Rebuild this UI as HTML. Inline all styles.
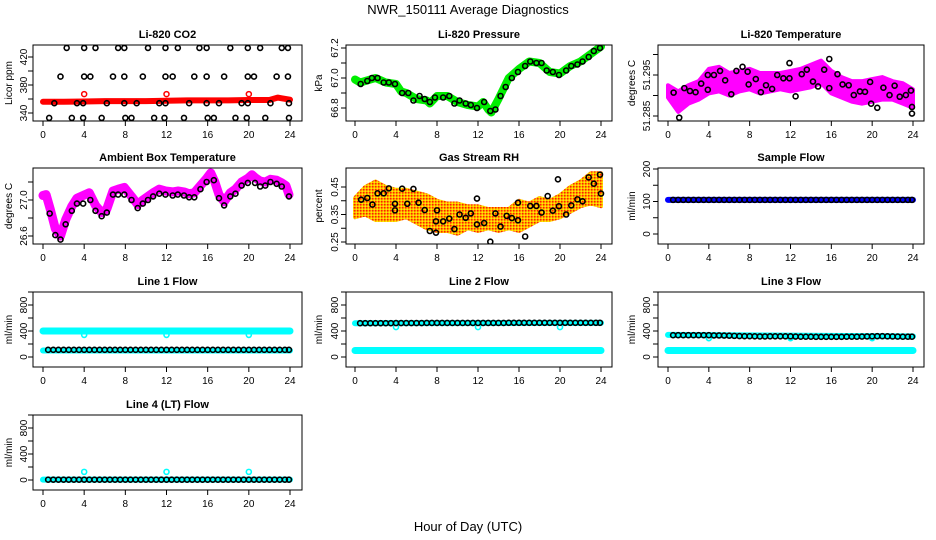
<!DOCTYPE html>
<html><head><meta charset="utf-8"><style>
body{margin:0;background:#fff;}
svg{display:block;font-family:"Liberation Sans",Arial,sans-serif;}
</style></head><body>
<svg id="c" width="936" height="540" viewBox="0 0 936 540" xmlns="http://www.w3.org/2000/svg">
<defs>
<pattern id="orangePat" width="3" height="3" patternUnits="userSpaceOnUse"><rect width="3" height="3" fill="#ffb000"/><rect width="1.5" height="1.5" fill="#ff2000"/><rect x="1.5" y="1.5" width="1.5" height="1.5" fill="#ffee00"/></pattern>
</defs>
<text x="468" y="14" font-size="13" text-anchor="middle">NWR_150111  Average Diagnostics</text>
<text x="468" y="531" font-size="13" text-anchor="middle">Hour of Day (UTC)</text>
</svg>
<script>
// ---- data ----
const xTicks=[0,4,8,12,16,20,24];
const co2TopT=[2.3,4.0,5.1,7.3,7.9,10.2,11.9,13.1,15.2,15.9,18.2,19.9,21.1,23.2,23.8];
const co2TopV=[433,433,433,433,433,433,433,433,433,433,433,433,433,433,433];
const co2MidT=[1.7,4.0,4.6,6.8,7.9,9.7,11.9,12.6,14.7,15.9,17.6,19.9,20.5,22.7,23.8];
const co2MidV=[392,392,392,392,392,392,392,392,392,392,392,392,392,392,392];
const co2LowT=[1.1,3.3,3.9,6.2,7.9,9.1,11.3,11.9,14.2,15.9,17.1,19.3,19.9,22.1,23.9];
const co2LowV=[354,354,354,354,354,354,354,354,354,354,354,354,354,354,354];
const co2BotT=[0.6,2.8,3.9,5.7,8.0,8.6,10.8,11.8,13.7,16.0,16.6,18.7,19.8,21.6,23.9];
const co2BotV=[333,333,333,333,333,333,333,333,333,333,333,333,333,333,333];
const co2RedT=[0,2,4,6,8,10,12,14,16,18,20,22,22.8,23.2,24];
const co2RedV=[356,356,356.5,357,357,357,357.5,358,358,358,358.5,358.5,362,361,359];
const co2RedOutT=[4,12,20];
const co2RedOutV=[367,367,367];

const presT=[0.55,1.2,1.65,2.2,2.8,3.3,3.9,4.6,5.2,5.7,6.3,6.8,7.3,7.8,8.6,9.2,9.7,10.2,10.8,11.3,11.9,12.6,13.2,13.7,14.2,14.7,15.3,15.9,16.6,17.1,17.7,18.2,18.7,19.3,19.9,20.6,21.1,21.7,22.2,22.8,23.3,23.9];
const presV=[66.96,66.98,67.0,67.0,66.97,66.97,66.96,66.9,66.9,66.85,66.88,66.86,66.84,66.87,66.87,66.88,66.83,66.85,66.83,66.82,66.8,66.84,66.78,66.79,66.88,66.94,67.0,67.04,67.08,67.11,67.1,67.1,67.05,67.04,67.02,67.05,67.08,67.09,67.11,67.14,67.18,67.2];
const presGreenT=[0,0.5,1,2,3,4,4.5,5,6,7,7.3,8,9,10,11,12,12.5,13,13.3,14,15,16,17,18,19,20,21,22,23,24];
const presGreenV=[66.99,66.97,66.98,67.0,66.97,66.96,66.91,66.9,66.86,66.85,66.83,66.88,66.88,66.84,66.82,66.81,66.84,66.79,66.77,66.86,67.0,67.06,67.11,67.1,67.04,67.03,67.08,67.11,67.16,67.21];

const ltT=[0.55,1.1,1.6,2.15,2.7,3.25,3.9,3.9,4.5,5.1,5.6,6.2,6.7,7.3,7.8,7.9,8.6,9.1,9.6,10.2,10.7,11.3,11.9,11.9,12.5,13.1,13.6,14.2,14.7,15.3,15.8,15.8,16.6,17.1,17.7,18.2,18.8,19.3,19.8,19.9,20.5,21.1,21.7,22.2,22.7,23.3,23.8,23.9,23.9];
const ltV=[51.2907,51.2846,51.2918,51.2911,51.2908,51.2929,51.2950,51.2914,51.2950,51.2960,51.2937,51.2903,51.2960,51.2970,51.2958,51.2927,51.2940,51.2908,51.2925,51.2916,51.2950,51.2942,51.2942,51.2979,51.2898,51.2952,51.2963,51.2934,51.2922,51.2963,51.2989,51.2918,51.2952,51.2927,51.2925,51.2901,51.2910,51.2909,51.2933,51.2880,51.2870,51.2919,51.2901,51.2924,51.2897,51.2901,51.2912,51.2872,51.2856];
const ltHours=[0,1,2,3,4,5,6,7,8,9,10,11,12,13,14,15,16,17,18,19,20,21,22,23,24];
const ltLo=[51.2895,51.2860,51.2880,51.2890,51.2905,51.2910,51.2900,51.2910,51.2915,51.2905,51.2910,51.2915,51.2910,51.2915,51.2920,51.2930,51.2905,51.2895,51.2885,51.2880,51.2885,51.2890,51.2890,51.2880,51.2870];
const ltHi=[51.2925,51.2910,51.2925,51.2935,51.2965,51.2970,51.2955,51.2960,51.2965,51.2955,51.2955,51.2955,51.2960,51.2965,51.2975,51.2985,51.2960,51.2945,51.2935,51.2935,51.2940,51.2945,51.2935,51.2930,51.2915];

const ambT=[0.65,1.2,1.7,2.2,2.8,3.3,3.9,4.6,5.1,5.7,6.2,6.8,7.3,7.9,8.6,9.2,9.7,10.2,10.7,11.3,11.9,12.6,13.1,13.7,14.2,14.7,15.3,15.9,16.6,17.1,17.6,18.2,18.7,19.3,19.9,20.6,21.1,21.6,22.1,22.7,23.2,23.9];
const ambV=[26.85,26.61,26.56,26.73,26.88,26.96,26.96,27.0,26.88,26.82,26.86,27.06,27.06,27.06,27.0,26.91,26.96,27.0,27.04,27.07,27.06,27.05,27.06,27.05,27.03,27.03,27.12,27.2,27.22,27.02,26.94,27.04,27.07,27.16,27.19,27.19,27.15,27.16,27.2,27.18,27.15,27.04];
const ambMagT=[0,0.3,0.7,1.2,1.7,2.2,2.8,3.3,3.9,4.5,5.1,5.7,6.2,6.8,7.3,7.9,8.6,9.2,9.7,10.2,10.7,11.3,11.9,12.6,13.1,13.7,14.2,14.7,15.3,15.9,16.3,16.7,17.1,17.6,18.2,18.7,19.3,19.9,20.3,20.6,21.1,21.6,22.1,22.7,23.2,23.6,23.9];
const ambMagV=[27.05,27.06,26.9,26.68,26.6,26.78,26.93,27.02,27.05,27.08,26.94,26.86,26.9,27.1,27.12,27.14,27.04,26.95,27.0,27.04,27.08,27.12,27.1,27.09,27.1,27.09,27.07,27.08,27.16,27.24,27.3,27.2,27.06,26.98,27.08,27.12,27.2,27.24,27.28,27.25,27.21,27.2,27.23,27.22,27.19,27.16,27.06];

const rhT=[0.6,1.2,1.7,2.2,2.8,3.3,3.9,3.9,4.6,5.1,5.7,6.2,6.8,7.3,7.9,8.0,7.9,8.6,9.2,9.7,10.2,10.8,11.3,11.9,11.9,12.6,13.2,13.7,14.2,14.8,15.3,15.9,15.9,16.6,17.1,17.7,18.2,18.8,19.3,19.8,19.9,20.6,21.1,21.7,22.2,22.8,23.3,23.9,24.0];
const rhV=[0.404,0.41,0.386,0.427,0.427,0.445,0.389,0.365,0.444,0.389,0.443,0.393,0.366,0.29,0.284,0.365,0.325,0.325,0.335,0.297,0.35,0.338,0.354,0.408,0.314,0.319,0.251,0.354,0.306,0.345,0.337,0.393,0.329,0.27,0.381,0.381,0.357,0.417,0.364,0.478,0.38,0.35,0.383,0.405,0.398,0.485,0.462,0.495,0.426];
const rhHours=[0,1,2,3,4,5,6,7,8,9,10,11,12,13,14,15,16,17,18,19,20,21,22,23,24];
const rhLo=[0.34,0.35,0.33,0.33,0.33,0.34,0.32,0.30,0.29,0.29,0.28,0.30,0.29,0.30,0.29,0.30,0.29,0.31,0.33,0.33,0.34,0.36,0.38,0.39,0.38];
const rhHi=[0.41,0.45,0.47,0.45,0.44,0.44,0.43,0.42,0.40,0.39,0.39,0.38,0.38,0.37,0.37,0.37,0.40,0.39,0.41,0.40,0.42,0.45,0.47,0.50,0.50];

const flowT=[0.5,1,1.5,2,2.5,3,3.5,4,4.5,5,5.5,6,6.5,7,7.5,8,8.5,9,9.5,10,10.5,11,11.5,12,12.5,13,13.5,14,14.5,15,15.5,16,16.5,17,17.5,18,18.5,19,19.5,20,20.5,21,21.5,22,22.5,23,23.5,23.9];
const sampleV=[105,105,105,105,105,105,105,105,105,105,105,105,105,105,105,105,105,105,105,105,105,105,105,105,105,105,105,105,105,105,105,105,105,105,105,105,105,105,105,105,105,105,105,105,105,105,105,105];
const line1BlackV=[110,110,110,110,110,110,110,110,110,110,110,110,110,110,110,110,110,110,110,110,110,110,110,110,110,110,110,110,110,110,110,110,110,110,110,110,110,110,110,110,110,110,110,110,110,110,110,110];
const line2BlackV=[520,520,520,520,520,520,520,522,522,522,522,522,522,524,524,524,524,524,524,524,524,524,524,524,524,524,524,524,524,526,526,526,526,526,526,526,526,526,526,526,526,526,526,526,526,526,526,526];
const line3BlackV=[335,335,335,335,335,335,335,335,332,332,330,328,325,322,320,320,318,316,316,318,318,318,318,318,315,312,312,312,310,310,310,310,310,310,312,312,312,314,316,318,320,320,318,316,314,312,312,312];
const line4BlackV=[5,5,5,5,5,5,5,5,5,5,5,5,5,5,5,5,5,5,5,5,5,5,5,5,5,5,5,5,5,5,5,5,5,5,5,5,5,5,5,5,5,5,5,5,5,5,5,5];
const cyanSegT=[0,24];
const line1CyanHi=[400,400];
const cyanLow=[100,100];
const line2CyanHi=[520,525];
const line3CyanHi=[340,318];
const line4Cyan=[5,5];
const spikeT=[4,12,20];
const line1Spike=[340,340,340];
const line2Spike=[460,460,460];
const line3Spike=[290,290,290];
const line4Spike=[125,125,125];

// ---- drawing ----
const svg=document.getElementById('c');
const NS='http://www.w3.org/2000/svg';
function mk(tag,attrs,parent){const e=document.createElementNS(NS,tag);for(const k in attrs)e.setAttribute(k,attrs[k]);(parent||svg).appendChild(e);return e;}
const cols=[{l:33,r:302,x0:43,x1:290,yl:8,tl:23},{l:346,r:612,x0:355,x1:601,yl:318,tl:334},{l:658,r:924,x0:668,x1:913,yl:631,tl:646}];
const rows=[{t:45,b:121},{t:168,b:244},{t:292,b:367},{t:415,b:490}];

function panel(ci,ri,title,unit,v0,p0,v1,p1,ticks,labels,name){
  const c=cols[ci],r=rows[ri];
  const g=mk('g',{});
  
  
  const X=t=>c.x0+(c.x1-c.x0)*t/24;
  const Y=v=>p0+(v-v0)*(p1-p0)/(v1-v0);
  const clipId='clip'+ci+ri;
  const cp=mk('clipPath',{id:clipId},g);mk('rect',{x:c.l,y:r.t,width:c.r-c.l,height:r.b-r.t},cp);
  const plot=mk('g',{'clip-path':'url(#'+clipId+')'},g);
  
  
  const frame=mk('rect',{x:c.l,y:r.t,width:c.r-c.l,height:r.b-r.t,fill:'none',stroke:'#000','stroke-width':1},g);
  
  
  const tt=mk('text',{x:(c.l+c.r)/2,y:r.t-7,'font-size':11,'font-weight':'bold','text-anchor':'middle'},g);tt.textContent=title;
  
  
  const yl=mk('text',{x:0,y:0,'font-size':10,'text-anchor':'middle',transform:`translate(${c.yl+4},${(r.t+r.b)/2}) rotate(-90)`},g);yl.textContent=unit;
  
  
  const xa=mk('g',{stroke:'#000'},g);
  
  
  mk('line',{x1:X(0),x2:X(24),y1:r.b,y2:r.b},xa);
  xTicks.forEach(t=>{mk('line',{x1:X(t),x2:X(t),y1:r.b,y2:r.b+5},xa);
    const tx=mk('text',{x:X(t),y:r.b+17,'font-size':10,'text-anchor':'middle',stroke:'none'},xa);tx.textContent=t;});
  const ya=mk('g',{stroke:'#000'},g);
  
  
  mk('line',{x1:c.l,x2:c.l,y1:Y(ticks[0]),y2:Y(ticks[ticks.length-1])},ya);
  ticks.forEach(v=>{mk('line',{x1:c.l-5,x2:c.l,y1:Y(v),y2:Y(v)},ya);});
  labels.forEach(v=>{const t=mk('text',{x:0,y:0,'font-size':10,'text-anchor':'middle',stroke:'none',transform:`translate(${c.tl+4},${Y(v)}) rotate(-90)`},ya);t.textContent=v;});
  return {X,Y,plot};
}
function pts(P,T,V,color,r,sw,name){
  T.forEach((t,i)=>{const e=mk('circle',{cx:P.X(t),cy:P.Y(V[i]),r:r,fill:'none',stroke:color,'stroke-width':sw},P.plot);
    
    });
}
function line(P,T,V,color,w,name){
  const e=mk('polyline',{points:T.map((t,i)=>P.X(t)+','+P.Y(V[i])).join(' '),fill:'none',stroke:color,'stroke-width':w,'stroke-linejoin':'round','stroke-linecap':'round'},P.plot);
  
  
}
function band(P,H,L,U,fill,name){
  const top=H.map((h,i)=>P.X(h)+','+P.Y(U[i]));
  const bot=H.map((h,i)=>P.X(h)+','+P.Y(L[i])).reverse();
  const e=mk('polygon',{points:top.concat(bot).join(' '),fill:fill,stroke:fill,'stroke-width':4,'stroke-linejoin':'round'},P.plot);
  
  
}

let P=panel(0,0,'Li-820 CO2','Licor ppm',340,113,420,57,[340,360,380,400,420],[340,380,420],'co2-panel');
line(P,co2RedT,co2RedV,'#ff0000',6,'co2-red-series');
pts(P,co2RedOutT,co2RedOutV,'#ff0000',2.5,1.5,'co2-red-point');
pts(P,co2TopT,co2TopV,'#000',2.5,1.6,'co2-point');pts(P,co2MidT,co2MidV,'#000',2.5,1.6,'co2-point');
pts(P,co2LowT,co2LowV,'#000',2.5,1.6,'co2-point');pts(P,co2BotT,co2BotV,'#000',2.5,1.6,'co2-point');
P=panel(1,0,'Li-820 Pressure','kPa',66.8,108,67.2,48,[66.8,66.9,67.0,67.1,67.2],['66.8','67.0','67.2'],'pressure-panel');
line(P,presGreenT,presGreenV,'#00ee00',8,'pressure-green-series');
pts(P,presT,presV,'#000',2.5,1.6,'pressure-point');
P=panel(2,0,'Li-820 Temperature','degrees C',51.285,116,51.295,75,[51.285,51.29,51.295,51.3],['51.285','51.295'],'li820-temp-panel');
band(P,ltHours,ltLo,ltHi,'#ff00ff','li820-temp-magenta-cloud');
pts(P,ltT,ltV,'#000',2.5,1.6,'li820-temp-point');
P=panel(0,1,'Ambient Box Temperature','degrees C',26.6,236,27.0,200,[26.6,26.8,27.0,27.2],['26.6','27.0'],'ambient-temp-panel');
line(P,ambMagT,ambMagV,'#ff00ff',9,'ambient-magenta-series');
pts(P,ambT,ambV,'#000',2.5,1.6,'ambient-point');
P=panel(1,1,'Gas Stream RH','percent',0.25,242,0.45,187,[0.25,0.3,0.35,0.4,0.45],['0.25','0.35','0.45'],'rh-panel');
band(P,rhHours,rhLo,rhHi,'url(#orangePat)','rh-orange-cloud');
pts(P,rhT,rhV,'#000',2.5,1.6,'rh-point');
P=panel(2,1,'Sample Flow','ml/min',0,234,200,169,[0,50,100,150,200],[0,100,200],'sample-flow-panel');
line(P,cyanSegT,[105,105],'#0000ff',6,'sample-flow-blue-series');
pts(P,flowT,sampleV,'#000',2.5,1.6,'sample-flow-point');
const lt=[0,200,400,600,800,1000],ll=[0,400,800];
P=panel(0,2,'Line 1 Flow','ml/min',0,357,800,305,lt,ll,'line1-flow-panel');
line(P,cyanSegT,line1CyanHi,'#00ffff',7,'line1-cyan-high');line(P,cyanSegT,cyanLow,'#00ffff',6,'line1-cyan-low');
pts(P,spikeT,line1Spike,'#00ffff',2.5,1.6,'line1-cyan-point');
pts(P,flowT,line1BlackV,'#000',2.5,1.6,'line1-point');
P=panel(1,2,'Line 2 Flow','ml/min',0,357,800,305,lt,ll,'line2-flow-panel');
line(P,cyanSegT,line2CyanHi,'#00ffff',6,'line2-cyan-high');line(P,cyanSegT,cyanLow,'#00ffff',7,'line2-cyan-low');
pts(P,spikeT,line2Spike,'#00ffff',2.5,1.6,'line2-cyan-point');
pts(P,flowT,line2BlackV,'#000',2.5,1.6,'line2-point');
P=panel(2,2,'Line 3 Flow','ml/min',0,357,800,305,lt,ll,'line3-flow-panel');
line(P,cyanSegT,line3CyanHi,'#00ffff',6,'line3-cyan-high');line(P,cyanSegT,cyanLow,'#00ffff',7,'line3-cyan-low');
pts(P,spikeT,line3Spike,'#00ffff',2.5,1.6,'line3-cyan-point');
pts(P,flowT,line3BlackV,'#000',2.5,1.6,'line3-point');
P=panel(0,3,'Line 4 (LT) Flow','ml/min',0,480,800,428,lt,ll,'line4-flow-panel');
line(P,cyanSegT,line4Cyan,'#00ffff',6,'line4-cyan-series');
pts(P,spikeT,line4Spike,'#00ffff',2.5,1.6,'line4-cyan-point');
pts(P,flowT,line4BlackV,'#000',2.5,1.6,'line4-point');
</script>
</body></html>
